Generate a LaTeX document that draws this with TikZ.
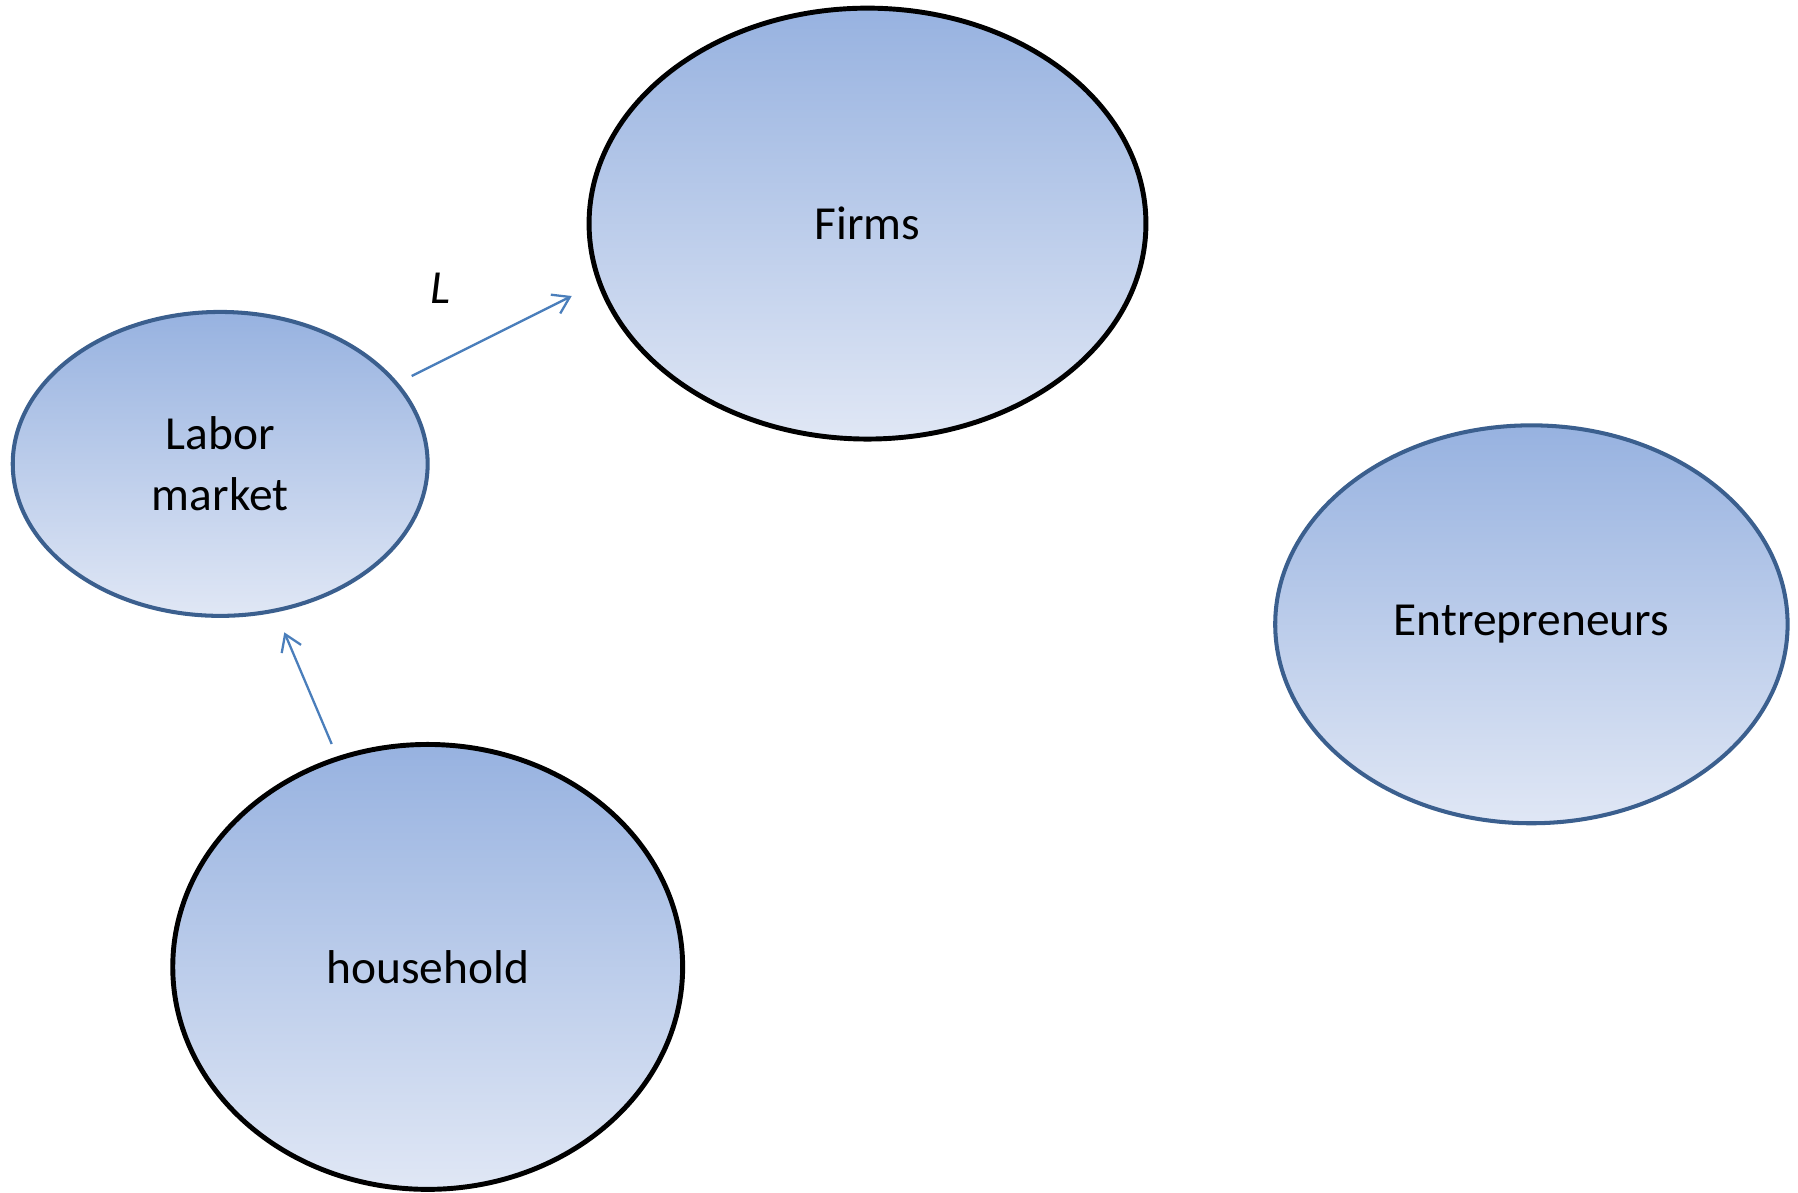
\documentclass[tikz,border=0pt]{standalone}
\usepackage{fontspec}
\setmainfont{Carlito}
\usetikzlibrary{shapes.geometric,arrows.meta}
\definecolor{gtop}{HTML}{97B2E0}
\definecolor{gbot}{HTML}{E0E7F5}
\definecolor{bluebd}{HTML}{3B5F8E}
\definecolor{arrc}{HTML}{4A7EBB}
\tikzset{
  bubble/.style={ellipse, inner sep=0pt, top color=gtop, bottom color=gbot,
    font=\fontsize{27}{34.5}\selectfont, align=center, text=black},
  blackbd/.style={bubble, draw=black, line width=2.8pt},
  bluebdr/.style={bubble, draw=bluebd, line width=2.3pt},
  flow/.style={draw=arrc, line width=1.3pt,
    -{Straight Barb[length=0.32cm, width=0.42cm, line width=1.3pt]}},
  lbl/.style={font=\fontsize{27}{34}\selectfont\itshape, text=black}
}
\begin{document}
\begin{tikzpicture}[x=0.02cm, y=-0.02cm]
\useasboundingbox (0,0) rectangle (1798,1193);
\node[blackbd, minimum width=11.14cm, minimum height=8.62cm] (firms) at (867.5,223.6) {Firms};
\node[bluebdr, minimum width=8.3cm, minimum height=6.08cm] (labor) at (220.2,463.9) {Labor\\market};
\node[bluebdr, minimum width=10.25cm, minimum height=7.96cm] (entre) at (1531.4,624.3) {Entrepreneurs};
\node[blackbd, minimum width=10.2cm, minimum height=8.9cm] (house) at (427.7,966.9) {household};
\node[lbl] (Llab) at (440,288) {L};
\coordinate (s1) at (411.7,376);
\coordinate (e1) at (571.7,296);
\coordinate (s2) at (331.7,744);
\coordinate (e2) at (284.3,632.3);
\draw[flow] (s1) -- (e1);
\draw[flow] (s2) -- (e2);
\end{tikzpicture}
\end{document}
